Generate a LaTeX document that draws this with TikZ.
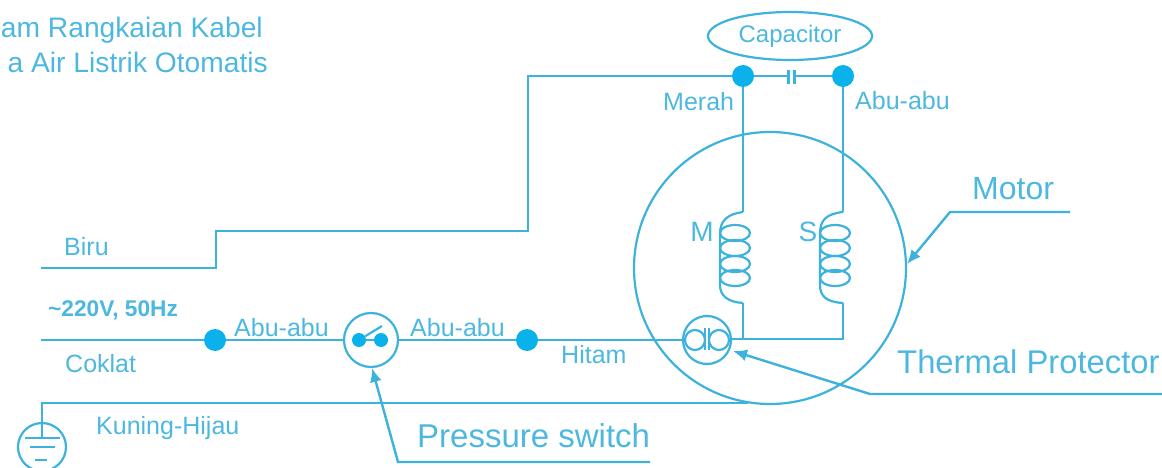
\documentclass[tikz,border=0pt]{standalone}
\usepackage{fontspec}
\setmainfont{Liberation Sans}
\usetikzlibrary{shapes.geometric,arrows.meta}
\definecolor{wirecol}{HTML}{3CB2DC}
\definecolor{dotcol}{HTML}{0BB1EA}
\definecolor{labelcol}{HTML}{4DB8DF}
\tikzset{
  wire/.style={wirecol, line width=2.6pt},
  thinwire/.style={wirecol, line width=2.2pt},
  pointer/.style={wirecol, line width=2.4pt, -{Latex[length=14pt,width=12pt]}},
  junction/.style={circle, fill=dotcol, inner sep=0pt, minimum size=22pt},
  label/.style={text=labelcol, inner sep=0pt, font=\fontsize{25}{25}\selectfont},
  biglabel/.style={text=labelcol, inner sep=0pt, font=\fontsize{33}{33}\selectfont},
  ring/.style={circle, draw=wirecol, line width=2.2pt, inner sep=0pt},
}
\newcommand{\coilloops}[1]{
  \foreach \cy in {233,248,264,278}
    \draw[thinwire] (#1,\cy) ellipse (15 and 8);
}
\begin{document}
\begin{tikzpicture}[x=1pt,y=-1pt]
\useasboundingbox (0,0) rectangle (1162,468);
% title
\node[biglabel, anchor=base east, font=\fontsize{28.2}{28.2}\selectfont] (titleA) at (263,38) {am Rangkaian Kabel};
\node[biglabel, anchor=base east, font=\fontsize{28.2}{28.2}\selectfont] (titleB) at (268,73) {a Air Listrik Otomatis};
% motor and capacitor
\node[ring, minimum size=272pt] (motor) at (770,268) {};
\node[ellipse, draw=wirecol, line width=2.2pt, minimum width=164pt, minimum height=48pt, inner sep=0pt, label, font=\fontsize{24}{24}\selectfont] (caplabel) at (790,36) {Capacitor};
\node[junction] (capL) at (743,76) {};
\node[junction] (capR) at (843,76) {};
\coordinate (plateL) at (788,76);
\coordinate (plateR) at (794,76);
% blue wire
\coordinate (blueA) at (41,268);
\coordinate (blueB) at (216,268);
\coordinate (blueC) at (216,231);
\coordinate (blueD) at (528,231);
\coordinate (blueE) at (528,76);
\draw[wire] (blueA)--(blueB)--(blueC)--(blueD)--(blueE)--(capL);
\draw[wire] (capL)--(plateL);
\draw[wire] (plateR)--(capR);
\draw[wirecol, line width=3pt] (788,70)--(788,84);
\draw[wirecol, line width=3pt] (794,70)--(794,84);
% windings
\coordinate (mTop) at (743,212);
\coordinate (mBot) at (743,303);
\coordinate (sTop) at (843,212);
\coordinate (sBot) at (843,303);
\draw[wire] (capL)--(mTop);
\draw[wire] (capR)--(sTop);
\draw[thinwire] (mTop) .. controls (728,214) and (720,220) .. (720,234)--(720,285) .. controls (720,296) and (728,302) .. (mBot);
\draw[thinwire] (sTop) .. controls (826,214) and (820,220) .. (820,234)--(820,285) .. controls (820,296) and (826,302) .. (sBot);
\coilloops{735}
\coilloops{835}
\node[label, anchor=center, font=\fontsize{28}{28}\selectfont] (mlabel) at (702,232) {M};
\node[label, anchor=center, font=\fontsize{28}{28}\selectfont] (slabel) at (808,232) {S};
% thermal protector
\node[ring, minimum size=48pt] (thermal) at (707,340) {};
\node[ring, minimum size=20pt] (thermalL) at (695,340) {};
\node[ring, minimum size=20pt] (thermalR) at (719,340) {};
\draw[thinwire] (705,328)--(705,350);
\draw[thinwire] (709,328)--(709,350);
\coordinate (sJoin) at (843,339);
\coordinate (mJoin) at (743,339);
\draw[wire] (mBot)--(mJoin);
\draw[wire] (sBot)--(sJoin)--(thermal.east |- sJoin);
% brown line
\coordinate (brownA) at (41,340);
\node[junction] (dotA) at (215,340) {};
\node[junction] (dotB) at (527,340) {};
\node[ring, minimum size=54pt] (pswitch) at (371,340) {};
\node[circle, fill=dotcol, inner sep=0pt, minimum size=14pt] (contactL) at (359,340) {};
\node[circle, fill=dotcol, inner sep=0pt, minimum size=14pt] (contactR) at (381,340) {};
\draw[wire] (brownA)--(dotA)--(pswitch);
\draw[wire] (pswitch)--(dotB)--(thermal);
\draw[wire] (contactL)--(contactR);
\draw[thinwire] (contactL)--(382,326);
% earth
\coordinate (earthA) at (748,403);
\coordinate (earthB) at (42,403);
\coordinate (earthC) at (42,438);
\draw[wire] (earthA)--(earthB)--(earthC);
\node[ring, minimum size=48pt] (earth) at (42,447) {};
\draw[wire] (25,438)--(60,438);
\draw[wire] (30,447)--(55,447);
\draw[wire] (35,460)--(47,460);
% pointers
\coordinate (motorA) at (1070,212);
\coordinate (motorB) at (950,212);
\draw[pointer] (motorA)--(motorB)--(907,264);
\coordinate (thermalA) at (1162,394);
\coordinate (thermalB) at (870,394);
\draw[pointer] (thermalA)--(thermalB)--(733,351);
\coordinate (pswitchA) at (650,462);
\coordinate (pswitchB) at (398,462);
\draw[pointer] (pswitchA)--(pswitchB)--(372,368);
% labels
\node[label, anchor=base west] (merah) at (663,111) {Merah};
\node[label, anchor=base west] (abuC) at (855,110) {Abu-abu};
\node[label, anchor=base west] (biru) at (64,255) {Biru};
\node[label, anchor=base west, font=\fontsize{22.7}{22.7}\selectfont\bfseries] (volt) at (48,316) {\textasciitilde220V, 50Hz};
\node[label, anchor=base west] (coklat) at (65,372) {Coklat};
\node[label, anchor=base west] (abuA) at (234,336) {Abu-abu};
\node[label, anchor=base west] (abuB) at (410,336) {Abu-abu};
\node[label, anchor=base west] (hitam) at (561,363) {Hitam};
\node[label, anchor=base west] (kuning) at (96,434) {Kuning-Hijau};
\node[biglabel, anchor=base west] (plabel) at (417,447) {Pressure switch};
\node[biglabel, anchor=base west, font=\fontsize{32.8}{32.8}\selectfont] (tlabel) at (897,373) {Thermal Protector};
\node[biglabel, anchor=base west, font=\fontsize{32}{32}\selectfont] (motorlabel) at (972,199) {Motor};
\end{tikzpicture}
\end{document}
